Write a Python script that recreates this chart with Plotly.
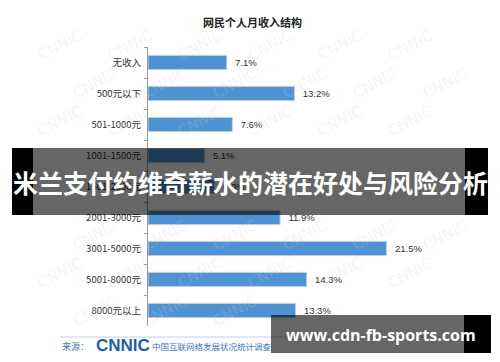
import plotly.graph_objects as go

categories = ["无收入", "500元以下", "501-1000元", "1001-1500元", "1501-2000元",
              "2001-3000元", "3001-5000元", "5001-8000元", "8000元以上"]
values = [7.1, 13.2, 7.6, 5.1, 6.0, 11.9, 21.5, 14.3, 13.3]
chart_title = "网民个人月收入结构"
banner_text = "米兰支付约维奇薪水的潜在好处与风险分析"
url_text = "www.cdn-fb-sports.com"
source_label = "来源："
source_logo = "CNNIC"
source_name = "中国互联网络发展状况统计调查"
source_date = "2020.3"

W, H = 500, 362
L, R, T, B = 148, 19, 47, 36
PW, PH = W - L - R, H - T - B
CJK = "Noto Sans CJK SC"


def px(x):
    return (x - L) / PW


def py(y):
    return (H - B - y) / PH


fig = go.Figure()

fig.add_trace(go.Bar(
    x=values, y=categories, orientation="h",
    marker=dict(color="#4f93d3", line=dict(color="#c9d3dd", width=1)),
    width=0.46,
    text=[f"\u00a0\u00a0{v:.1f}%" for v in values], textposition="outside",
    textfont=dict(family="Liberation Sans, Arial", size=9.5, color="#333333"),
    cliponaxis=False, showlegend=False))

# date text under the url banner (kept under the overlay)
fig.add_trace(go.Scatter(
    x=[412], y=[348], mode="text", text=[source_date],
    textfont=dict(family="Liberation Sans", size=10, color="#666666"),
    xaxis="x2", yaxis="y2", cliponaxis=False, hoverinfo="skip", showlegend=False))

fig.update_layout(
    width=W, height=H,
    margin=dict(l=L, r=R, t=T, b=B),
    paper_bgcolor="white", plot_bgcolor="rgba(0,0,0,0)",
    xaxis=dict(range=[0, 30], visible=False, fixedrange=True),
    yaxis=dict(autorange="reversed", type="category",
               showline=True, linecolor="#9a9a9a", linewidth=1,
               ticks="outside", ticklen=3, tickcolor="#9a9a9a", tickson="boundaries",
               ticklabelstandoff=4,
               tickfont=dict(family=CJK, size=9.5, color="#333333"),
               showgrid=False),
    xaxis2=dict(overlaying="x", range=[L, W - R], visible=False, fixedrange=True),
    yaxis2=dict(overlaying="y", range=[H - B, T], visible=False, fixedrange=True),
)

shapes = []
shapes.append(dict(type="line", xref="paper", yref="paper",
                   x0=px(60), x1=px(445), y0=py(337), y1=py(337),
                   line=dict(color="#bcd2e8", width=1), layer="below"))
# main banner
shapes.append(dict(type="rect", xref="paper", yref="paper", x0=px(12), x1=px(33),
                   y0=py(215), y1=py(148), fillcolor="black", line=dict(width=0), layer="above"))
shapes.append(dict(type="rect", xref="paper", yref="paper", x0=px(33), x1=px(465),
                   y0=py(215), y1=py(148), fillcolor="rgba(0,0,0,0.6)", line=dict(width=0), layer="above"))
shapes.append(dict(type="rect", xref="paper", yref="paper", x0=px(465), x1=px(488),
                   y0=py(215), y1=py(148), fillcolor="black", line=dict(width=0), layer="above"))
# url banner
shapes.append(dict(type="rect", xref="paper", yref="paper", x0=px(271), x1=px(464),
                   y0=py(353), y1=py(315), fillcolor="rgba(0,0,0,0.6)", line=dict(width=0), layer="above"))
shapes.append(dict(type="rect", xref="paper", yref="paper", x0=px(464), x1=px(491),
                   y0=py(353), y1=py(315), fillcolor="black", line=dict(width=0), layer="above"))
fig.update_layout(shapes=shapes)

ann = []
# faint rotated watermarks (skip banner areas and edges)
for row in range(8):
    for col in range(7):
        x = 60 + col * 70 + (row % 2) * 35
        y = 45 + row * 38
        if 135 < y < 228:
            continue
        if y > 300 and x > 255:
            continue
        if x > 465 or y > 320:
            continue
        ann.append(dict(text="CNNIC", x=px(x), y=py(y), xref="paper", yref="paper",
                        xanchor="center", yanchor="middle", showarrow=False, textangle=-28,
                        font=dict(family="DejaVu Sans", size=15, color="rgba(200,208,218,0.22)")))

ann.append(dict(text=f"<b>{chart_title}</b>", x=px(252), y=py(22), xref="paper", yref="paper",
                xanchor="center", yanchor="middle",
                showarrow=False, font=dict(family=CJK, size=11, color="#222222")))
ann.append(dict(text=source_label, x=px(60), y=py(346), xref="paper", yref="paper",
                xanchor="left", yanchor="middle", showarrow=False,
                font=dict(family=CJK, size=9, color="#4a78a8")))
ann.append(dict(text=f"<b>{source_logo}</b>", x=px(94), y=py(345), xref="paper", yref="paper",
                xanchor="left", yanchor="middle", showarrow=False,
                font=dict(family="Liberation Sans", size=17, color="#1d5fa6")))
ann.append(dict(text=source_name, x=px(150), y=py(346), xref="paper", yref="paper",
                xanchor="left", yanchor="middle", showarrow=False,
                font=dict(family=CJK, size=8.5, color="#3a78c0")))
ann.append(dict(text=f"<b>{banner_text}</b>", x=px(250), y=py(182), xref="paper", yref="paper",
                xanchor="center", yanchor="middle",
                showarrow=False, font=dict(family=CJK, size=25, color="white")))
ann.append(dict(text=f"<b>{url_text}</b>", x=px(381), y=py(335), xref="paper", yref="paper",
                xanchor="center", yanchor="middle",
                showarrow=False, font=dict(family="Open Sans", size=16, color="white")))
fig.update_layout(annotations=ann)

fig.write_html("out.html", config={"displayModeBar": False})
